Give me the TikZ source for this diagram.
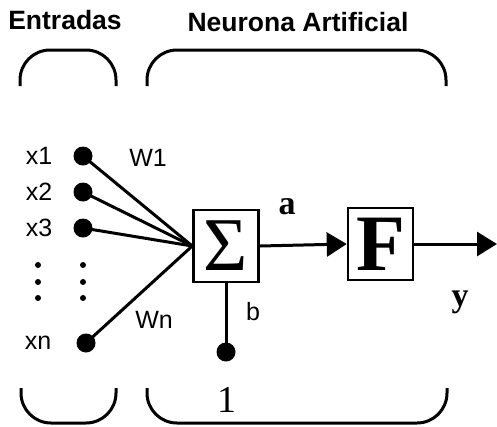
\documentclass[tikz,border=0pt]{standalone}
\usepackage{fontspec}
\setmainfont{Liberation Serif}
\newfontfamily\hvsans{Liberation Sans}
\usetikzlibrary{arrows.meta}

\begin{document}
\begin{tikzpicture}[x=1pt,y=-1pt,
  every node/.style={font=\hvsans\fontsize{25}{25}\selectfont,inner sep=0pt},
  ttl/.style={font=\hvsans\bfseries\fontsize{26.5}{26.5}\selectfont},
  dot/.style={circle,fill,inner sep=0pt,minimum size=19pt},
  blk/.style={draw,line width=2.5pt,minimum width=65pt,minimum height=72pt},
  wire/.style={line width=3pt},
  brk/.style={line width=3pt,rounded corners=30pt},
  ser/.style={font=\bfseries\fontsize{34}{34}\selectfont},
  tip/.style={-{Triangle[length=20pt,width=24pt]}}]
 \useasboundingbox (0,0) rectangle (497,426);
 \node[ttl] (tin)  at (65,20)  {Entradas};
 \node[ttl] (tneu) at (298,22) {Neurona Artificial};
 % brackets
 \draw[brk] (20,86) -- (20,50) -- (116,50) -- (116,86);
 \draw[brk] (147,86) -- (147,50) -- (446,50) -- (446,86);
 \draw[brk] (21,388) -- (21,423) -- (116,423) -- (116,388);
 \draw[brk] (147,388) -- (147,423) -- (447,423) -- (447,388);
 % inputs
 \foreach \n/\y in {1/156,2/192,3/228}{
   \node[dot] (d\n) at (83,\y) {};
   \node (x\n) at (39,\y) {x\n};
 }
 \node[dot] (dn) at (86,343) {};
 \node (xn) at (38,343) {xn};
 \foreach \y in {265,282,298}{
   \fill (38,\y) circle (3);
   \fill (83,\y) circle (3);
 }
 \node[blk,font=\fontsize{76}{76}\selectfont] (sig) at (226,246) {Σ};
 \node[blk,font=\bfseries\fontsize{80}{80}\selectfont] (fbox) at (380.5,244) {F};
 \node[dot] (bd) at (226,352) {};
 \coordinate (yout) at (497,244);
 \foreach \d in {d1,d2,d3,dn}
   \draw[wire] (\d.center) -- (sig.west);
 \draw[wire] (sig.south) -- (bd.center);
 \draw[wire,tip] (sig.east) -- (fbox.west);
 \draw[wire,tip] (fbox.east) -- (yout);
 % labels
 \node (w1) at (148,158) {W1};
 \node (wn) at (154,320) {Wn};
 \node (lb) at (253,312) {b};
 \node[ser] (la) at (287,207) {a};
 \node[ser] (ly) at (460,302) {y};
 \node[font=\fontsize{38}{38}\selectfont] (one) at (227,400) {1};
\end{tikzpicture}
\end{document}
